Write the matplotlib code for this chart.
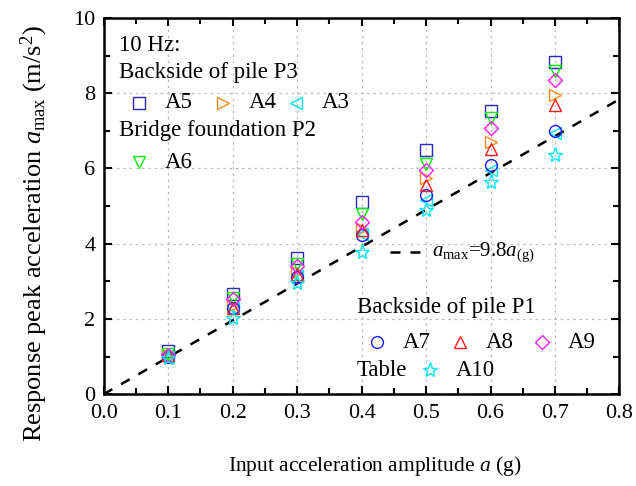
import numpy as np
import matplotlib
matplotlib.use("Agg")
import matplotlib.pyplot as plt
from matplotlib.ticker import MultipleLocator, FormatStrFormatter

plt.rcParams['font.family'] = ['Liberation Serif', 'DejaVu Serif']
plt.rcParams['mathtext.fontset'] = 'custom'
plt.rcParams['mathtext.rm'] = 'Liberation Serif'
plt.rcParams['mathtext.it'] = 'Liberation Serif:italic'

# input amplitudes (g)
amp = [0.1, 0.2, 0.3, 0.4, 0.5, 0.6, 0.7]

# response peak accelerations (m/s^2)
a5 = [1.15, 2.65, 3.63, 5.12, 6.50, 7.52, 8.83]
a4 = [1.05, 2.35, 3.25, 4.40, 5.74, 6.70, 7.95]
a3 = [1.00, 2.30, 3.15, 4.27, 5.15, 5.95, 6.95]
a6 = [1.08, 2.55, 3.47, 4.80, 6.13, 7.33, 8.58]
a7 = [1.00, 2.30, 3.12, 4.22, 5.29, 6.08, 7.00]
a8 = [1.03, 2.28, 3.20, 4.36, 5.55, 6.53, 7.68]
a9 = [1.05, 2.52, 3.40, 4.57, 5.95, 7.07, 8.34]
a10 = [0.95, 2.02, 2.95, 3.77, 4.89, 5.63, 6.35]

# fitted line a_max = 9.8 a
fit_x = [0.0, 0.8]
fit_k = 9.8

series = [
    ("A5", a5, 's', '#2a2ab8'),
    ("A4", a4, '>', '#ff8c1a'),
    ("A3", a3, '<', '#00e5ff'),
    ("A6", a6, 'v', '#00ee00'),
    ("A7", a7, 'o', '#1a1aff'),
    ("A8", a8, '^', '#ff1a1a'),
    ("A9", a9, 'D', '#ff1aff'),
    ("A10", a10, '*', '#00e5ff'),
]

fig = plt.figure(figsize=(6.36, 4.86), dpi=100)
ax = fig.add_axes([0.163, 0.189, 0.811, 0.774])

ax.plot(fit_x, [fit_k * x for x in fit_x], color='k', ls=(0, (4, 4)), lw=1.8, zorder=2)

ms = {'s': 8.5, '>': 9, '<': 9, 'v': 9, 'o': 8.5, '^': 9, 'D': 7.5, '*': 11}
for name, vals, mk, col in series:
    ax.plot(amp, vals, ls='none', marker=mk, ms=ms[mk], mfc='none', mec=col, mew=1.0, zorder=3)

ax.set_xlim(0, 0.8)
ax.set_ylim(0, 10)
ax.xaxis.set_major_locator(MultipleLocator(0.1))
ax.xaxis.set_minor_locator(MultipleLocator(0.05))
ax.yaxis.set_major_locator(MultipleLocator(2))
ax.yaxis.set_minor_locator(MultipleLocator(1))
ax.xaxis.set_major_formatter(FormatStrFormatter('%.1f'))
ax.tick_params(which='both', direction='in', top=True, right=True, width=1.5, labelsize=16)
ax.tick_params(which='major', length=6)
ax.tick_params(which='minor', length=4)
ax.tick_params(axis='x', pad=7)
ax.tick_params(axis='y', pad=6)
for sp in ax.spines.values():
    sp.set_linewidth(1.8)
ax.grid(True, which='major', ls=(0, (2, 3)), color='#bbbbbb', lw=0.9)

ax.set_xlabel(r"Input acceleration amplitude $a$ (g)", fontsize=15.5)
ax.xaxis.set_label_coords(0.525, -0.16)
ax.set_ylabel(r"Response peak acceleration $a_{\rm max}$ (m/s$^2$)", fontsize=19)
ax.yaxis.set_label_coords(-0.105, 0.426)

# legend blocks drawn in axes coordinates
tr = ax.transAxes
fs = 16.5


def key(x, y, mk, col, label):
    ax.plot([x], [y], transform=tr, ls='none', marker=mk, ms=ms[mk], mfc='none',
            mec=col, mew=1.0, clip_on=False)
    ax.text(x + 0.05, y, label, transform=tr, fontsize=fs, va='center', ha='left')


ax.text(0.030, 0.928, "10 Hz:", transform=tr, fontsize=fs, va='center')
ax.text(0.030, 0.854, "Backside of pile P3", transform=tr, fontsize=fs, va='center')
key(0.069, 0.774, 's', '#2a2ab8', "A5")
key(0.232, 0.774, '>', '#ff8c1a', "A4")
key(0.373, 0.774, '<', '#00e5ff', "A3")
ax.text(0.030, 0.702, "Bridge foundation P2", transform=tr, fontsize=fs, va='center')
key(0.069, 0.617, 'v', '#00ee00', "A6")

ax.text(0.491, 0.231, "Backside of pile P1", transform=tr, fontsize=fs, va='center')
key(0.530, 0.138, 'o', '#1a1aff', "A7")
key(0.691, 0.138, '^', '#ff1a1a', "A8")
key(0.850, 0.138, 'D', '#ff1aff', "A9")
ax.text(0.491, 0.064, "Table", transform=tr, fontsize=fs, va='center')
key(0.633, 0.064, '*', '#00e5ff', "A10")

ax.plot([0.555, 0.633], [0.378, 0.378], transform=tr, color='k', ls=(0, (4, 4)), lw=1.8)
ax.text(0.636, 0.378, r"$a_{\rm max}$=9.8$a_{\rm (g)}$", transform=tr, fontsize=15,
        va='center', ha='left')

fig.savefig("out.png", dpi=100)
